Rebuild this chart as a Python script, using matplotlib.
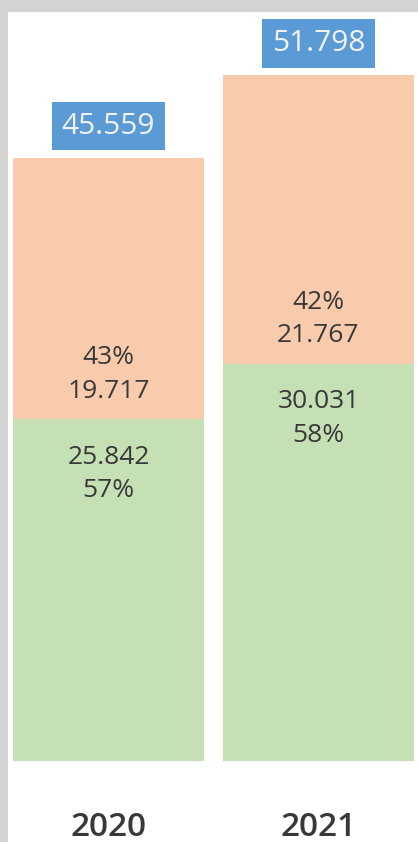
import matplotlib
matplotlib.use("Agg")
import matplotlib.pyplot as plt
from matplotlib.patches import Rectangle

# ---- data ----
years = ["2020", "2021"]
green_values = [25842, 30031]
orange_values = [19717, 21767]
green_pct = ["57%", "58%"]
orange_pct = ["43%", "42%"]

GREEN = "#C5E0B4"
ORANGE = "#F8CBAD"
BLUE = "#5B9BD5"
TEXT = "#383838"
BG = "#D3D3D3"

plt.rcParams["font.family"] = ["Open Sans", "DejaVu Sans"]

W, H = 418, 842
fig = plt.figure(figsize=(W / 100, H / 100), dpi=100, facecolor=BG)
fig.patches.append(Rectangle((8 / W, 0), 1 - 8 / W, (H - 12) / H,
                             transform=fig.transFigure, facecolor="white",
                             edgecolor="none", zorder=-10))

# axes: bottom at pixel 761, top at pixel 12
ax = fig.add_axes([8 / W, (H - 761) / H, 1 - 8 / W, (761 - 12) / H])
ax.set_facecolor("none")
ax.set_zorder(5)

def fmt(v):
    return f"{v:,}".replace(",", ".")

x = list(range(len(years)))
width = 0.91
ax.bar(x, green_values, width=width, color=GREEN, edgecolor="none")
ax.bar(x, orange_values, width=width, bottom=green_values, color=ORANGE,
       edgecolor="none")

totals = [g + o for g, o in zip(green_values, orange_values)]

for i in x:
    g, o, t = green_values[i], orange_values[i], totals[i]
    # orange label (above boundary)
    ax.annotate(f"{orange_pct[i]}\n{fmt(o)}", xy=(i, g), xytext=(0, 11),
                textcoords="offset points", ha="center", va="bottom",
                fontsize=19, color=TEXT, linespacing=1.45,
                fontweight="medium")
    # green label (below boundary)
    ax.annotate(f"{fmt(g)}\n{green_pct[i]}", xy=(i, g), xytext=(0, -18.5),
                textcoords="offset points", ha="center", va="top",
                fontsize=19, color=TEXT, linespacing=1.45,
                fontweight="medium")
    # total label box
    ax.annotate(fmt(t), xy=(i, t), xytext=(0, 23),
                textcoords="offset points", ha="center", va="center",
                fontsize=21.5, color="#F2F2F2",
                bbox=dict(boxstyle="square,pad=0.32", facecolor=BLUE,
                          edgecolor="none"))

ax.set_xlim((8 - 108.5) / 210, (418 - 108.5) / 210)
ax.set_ylim(0, 56590)
ax.set_xticks(x)
ax.set_xticklabels(years, fontsize=24, color="#383838", fontweight="semibold")
ax.tick_params(axis="x", length=0, pad=36)
ax.set_yticks([])
for s in ax.spines.values():
    s.set_visible(False)

fig.savefig("out.png", dpi=100, facecolor=BG)
